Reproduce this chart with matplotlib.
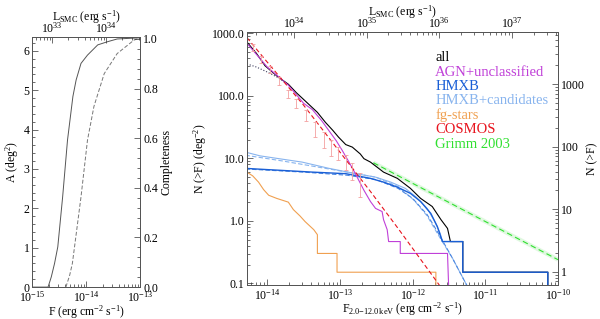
import numpy as np
import matplotlib
matplotlib.use("Agg")
import matplotlib.pyplot as plt
from matplotlib.ticker import LogLocator, FuncFormatter, AutoMinorLocator, NullFormatter, FixedLocator

plt.rcParams['font.family'] = 'Liberation Serif'
plt.rcParams['mathtext.fontset'] = 'custom'
plt.rcParams['mathtext.rm'] = 'Liberation Serif'
plt.rcParams['mathtext.it'] = 'Liberation Serif:italic'
plt.rcParams['font.size'] = 8.5

K_LUM = 4.3e47  # L = K * F for the SMC distance

# left panel: sky coverage (log flux, area)
cov_solid_logf = [-15.0, -14.71, -14.65, -14.59, -14.53, -14.44, -14.35, -14.25, -14.19, -14.10, -13.98, -13.79, -13.61, -13.43, -13.0]
cov_solid_a = [0.0, 0.0, 0.26, 0.60, 1.02, 2.29, 3.73, 4.84, 5.26, 5.68, 5.89, 6.15, 6.23, 6.30, 6.33]
cov_dash_logf = [-14.38, -14.31, -14.26, -14.22, -14.10, -13.98, -13.86, -13.67, -13.43, -13.12, -13.0]
cov_dash_a = [0.0, 0.30, 0.60, 1.02, 2.29, 3.73, 4.59, 5.42, 5.93, 6.27, 6.33]

# right panel: logN-logS curves (log10 flux, log10 N)
all_logf = [-14.28, -14.15, -14.03, -13.85, -13.71, -13.6, -13.48, -13.31, -13.2, -13.1, -13.02, -12.92, -12.83, -12.72, -12.67, -12.58, -12.40, -12.21, -12.03, -11.89, -11.73, -11.61, -11.52, -11.48, -11.31, -11.31, -10.14, -10.14]
all_logn = [2.86, 2.68, 2.48, 2.30, 2.185, 2.05, 1.92, 1.735, 1.576, 1.45, 1.34, 1.22, 1.18, 1.07, 0.995, 0.94, 0.78, 0.68, 0.52, 0.36, 0.23, 0.02, -0.12, -0.33, -0.33, -0.82, -0.82, -1.2]

agn_logf = [-14.28, -14.0, -13.71, -13.5, -13.38, -13.25, -13.15, -13.05, -12.97, -12.88, -12.79, -12.67, -12.58, -12.51, -12.42, -12.40, -12.35, -12.33, -12.17, -12.17, -11.52, -11.50]
agn_logn = [2.84, 2.46, 2.17, 1.88, 1.78, 1.60, 1.44, 1.28, 1.13, 0.95, 0.76, 0.49, 0.31, 0.20, 0.15, 0.02, -0.14, -0.33, -0.33, -0.52, -0.52, -1.2]

agn_dot_logf = [-14.28, -14.15, -14.0, -13.85, -13.75]
agn_dot_logn = [2.51, 2.46, 2.38, 2.29, 2.21]

hmxb_logf = [-14.30, -14.0, -13.84, -13.38, -12.92, -12.58, -12.40, -12.21, -12.03, -11.89, -11.75, -11.66, -11.59, -11.31, -11.31, -10.14, -10.14]
hmxb_logn = [0.84, 0.82, 0.81, 0.78, 0.755, 0.68, 0.62, 0.54, 0.44, 0.31, 0.12, -0.09, -0.33, -0.33, -0.82, -0.82, -1.2]

cand_logf = [-14.30, -14.1, -13.84, -13.52, -13.15, -12.79, -12.51, -12.3, -12.1, -11.95, -11.8, -11.7, -11.62, -11.59, -11.31]
cand_logn = [1.10, 1.04, 0.995, 0.94, 0.84, 0.757, 0.70, 0.62, 0.52, 0.38, 0.20, 0.0, -0.2, -0.33, -0.33]

cand_fit_logf = [-14.30, -13.8, -13.3, -12.9, -12.51, -12.2, -11.98, -11.8, -11.66, -11.45, -11.25]
cand_fit_logn = [1.05, 0.96, 0.86, 0.78, 0.70, 0.55, 0.33, 0.08, -0.2, -0.6, -1.04]
hmxb_fit_logf = [-14.30, -13.5, -12.9, -12.5, -12.2, -12.0, -11.8, -11.66, -11.45, -11.25]
hmxb_fit_logn = [0.83, 0.78, 0.73, 0.66, 0.52, 0.36, 0.10, -0.17, -0.6, -1.04]

fg_logf = [-14.28, -14.20, -14.12, -14.05, -13.98, -13.87, -13.71, -13.64, -13.55, -13.48, -13.36, -13.31, -13.31, -13.04, -13.04, -11.68, -11.68]
fg_logn = [0.78, 0.72, 0.62, 0.50, 0.41, 0.36, 0.30, 0.18, 0.08, -0.01, -0.14, -0.22, -0.52, -0.52, -0.82, -0.82, -1.2]

cosmos_logf = [-14.28, -14.03, -13.5, -13.0, -12.58, -12.2, -11.68, -11.6]
cosmos_logn = [2.93, 2.58, 1.85, 1.10, 0.47, -0.12, -0.95, -1.08]

err_logf = [-14.20, -14.08, -13.96, -13.84, -13.72, -13.60, -13.47, -13.34, -13.22, -13.12, -13.02, -12.92, -12.83, -12.73]
err_top = [2.82, 2.63, 2.47, 2.30, 2.10, 1.95, 1.78, 1.58, 1.42, 1.29, 1.18, 1.05, 0.92, 0.76]
err_bot = [2.72, 2.53, 2.36, 2.18, 1.97, 1.80, 1.60, 1.34, 1.16, 1.03, 0.97, 0.81, 0.65, 0.39]

grimm_logf = [-12.54, -10.0]
grimm_logn = [0.93, -0.62]

legend_names = ['all', 'AGN+unclassified', 'HMXB', 'HMXB+candidates', 'fg-stars', 'COSMOS', 'Grimm 2003']
legend_colors = ['black', '#c040d8', '#1a5fd6', '#88b4ee', '#f0a050', '#e8141e', '#30e030']

AREA = 6.5  # deg^2, N(>F) axis on the right


def p10(a):
    return 10.0 ** np.array(a)


def pow_fmt(v, pos):
    if v <= 0:
        return ''
    e = int(round(np.log10(v)))
    return '10$^{%d}$' % e


def style(ax):
    ax.tick_params(which='both', direction='in', colors='#333333', labelcolor='black', pad=2)
    ax.tick_params(which='major', length=4, width=0.5)
    ax.tick_params(which='minor', length=2, width=0.5)
    for s in ax.spines.values():
        s.set_color('#555555')
        s.set_linewidth(0.6)


fig = plt.figure(figsize=(6.0, 3.19), dpi=100)

# ---------------- left panel
ax1 = fig.add_axes([0.054, 0.100, 0.180, 0.784])
ax1.plot(p10(cov_solid_logf), cov_solid_a, color='#555555', lw=0.7)
ax1.plot(p10(cov_dash_logf), cov_dash_a, color='#777777', lw=0.7, ls=(0, (4, 2)))
ax1.set_xscale('log')
ax1.set_xlim(1e-15, 1e-13)
ax1.set_ylim(0, 6.35)
ax1.yaxis.set_minor_locator(AutoMinorLocator(5))
ax1.xaxis.set_major_formatter(FuncFormatter(pow_fmt))
ax1.set_xlabel('F (erg cm$^{-2}$ s$^{-1}$)', labelpad=-1)
ax1.set_ylabel('A (deg$^{2}$)', labelpad=2)
style(ax1)
ax1.tick_params(right=False, top=False)

ax1r = ax1.twinx()
ax1r.set_ylim(0, 6.35 / 6.3)
ax1r.set_yticks([0.0, 0.2, 0.4, 0.6, 0.8, 1.0])
ax1r.yaxis.set_major_formatter(FuncFormatter(lambda v, p: '%.1f' % v))
ax1r.yaxis.set_minor_locator(AutoMinorLocator(5))
ax1r.set_ylabel('Completeness', labelpad=2)
style(ax1r)

ax1t = ax1.twiny()
ax1t.set_xscale('log')
ax1t.set_xlim(1e-15 * K_LUM, 1e-13 * K_LUM)
ax1t.xaxis.set_major_formatter(FuncFormatter(pow_fmt))
ax1t.xaxis.set_minor_formatter(NullFormatter())
ax1t.set_xlabel('L$_{\\rm SMC}$ (erg s$^{-1}$)', labelpad=0)
style(ax1t)
ax1t.tick_params(axis='x', pad=1)

# ---------------- right panel
ax2 = fig.add_axes([0.412, 0.107, 0.518, 0.793])
ax2.plot(p10(grimm_logf), p10(grimm_logn), color='#e0f8e0', lw=3, solid_capstyle='butt')
ax2.plot(p10(grimm_logf), p10(grimm_logn), color='#30e030', lw=0.8, ls=(0, (5, 3)))
ax2.plot(p10(fg_logf), p10(fg_logn), color='#f0a050', lw=0.8)
ax2.plot(p10(cand_logf), p10(cand_logn), color='#88b4ee', lw=0.8)
ax2.plot(p10(cand_fit_logf), p10(cand_fit_logn), color='#88b4ee', lw=0.8, ls=(0, (4, 2)))
ax2.plot(p10(all_logf), p10(all_logn), color='black', lw=0.8)
ax2.plot(p10(hmxb_fit_logf), p10(hmxb_fit_logn), color='#4a86e0', lw=0.8, ls=(0, (4, 2)))
ax2.plot(p10(hmxb_logf), p10(hmxb_logn), color='#1a5fd6', lw=1.0)
ax2.plot(p10(agn_logf), p10(agn_logn), color='#c040d8', lw=0.8)
ax2.plot(p10(agn_dot_logf), p10(agn_dot_logn), color='#404060', lw=0.8, ls=':')
ax2.plot(p10(cosmos_logf), p10(cosmos_logn), color='#e8141e', lw=0.8, ls=(0, (4, 2.5)))

etop = p10(err_top)
ebot = p10(err_bot)
emid = (etop + ebot) / 2
ax2.errorbar(p10(err_logf), emid, yerr=[emid - ebot, etop - emid], fmt='none',
             ecolor='#f4a0a0', elinewidth=0.6, capsize=1.5, capthick=0.6)

ax2.set_xscale('log')
ax2.set_yscale('log')
ax2.set_xlim(5.3e-15, 1e-10)
ax2.set_ylim(0.095, 1050)
ax2.xaxis.set_major_formatter(FuncFormatter(pow_fmt))
ax2.yaxis.set_major_locator(FixedLocator([0.1, 1, 10, 100, 1000]))
ax2.yaxis.set_major_formatter(FuncFormatter(lambda v, p: '%.1f' % v))
ax2.yaxis.set_minor_locator(LogLocator(base=10, subs=np.arange(2, 10)))
ax2.yaxis.set_minor_formatter(NullFormatter())
ax2.set_xlabel('F$_{2.0\\mathrm{-}12.0\\,\\rm keV}$ (erg cm$^{-2}$ s$^{-1}$)', labelpad=-1)
ax2.set_ylabel('N (>F) (deg$^{-2}$)', labelpad=2)
style(ax2)
ax2.tick_params(right=False, top=False)

for i, (name, col) in enumerate(zip(legend_names, legend_colors)):
    ax2.text(0.605, 0.897 - i * 0.0567, name, color=col, fontsize=10.5,
             transform=ax2.transAxes, va='center', ha='left')

ax2r = ax2.twinx()
ax2r.set_yscale('log')
ax2r.set_ylim(0.095 * AREA, 1050 * AREA)
ax2r.yaxis.set_major_locator(FixedLocator([1, 10, 100, 1000]))
ax2r.yaxis.set_major_formatter(FuncFormatter(lambda v, p: '%d' % v))
ax2r.yaxis.set_minor_locator(LogLocator(base=10, subs=np.arange(2, 10)))
ax2r.yaxis.set_minor_formatter(NullFormatter())
ax2r.set_ylabel('N (>F)', labelpad=1)
style(ax2r)

ax2t = ax2.twiny()
ax2t.set_xscale('log')
ax2t.set_xlim(5.3e-15 * K_LUM, 1e-10 * K_LUM)
ax2t.xaxis.set_major_formatter(FuncFormatter(pow_fmt))
ax2t.xaxis.set_minor_formatter(NullFormatter())
ax2t.set_xlabel('L$_{\\rm SMC}$ (erg s$^{-1}$)', labelpad=0)
style(ax2t)
ax2t.tick_params(axis='x', pad=1)

fig.savefig('out.png', dpi=100)
